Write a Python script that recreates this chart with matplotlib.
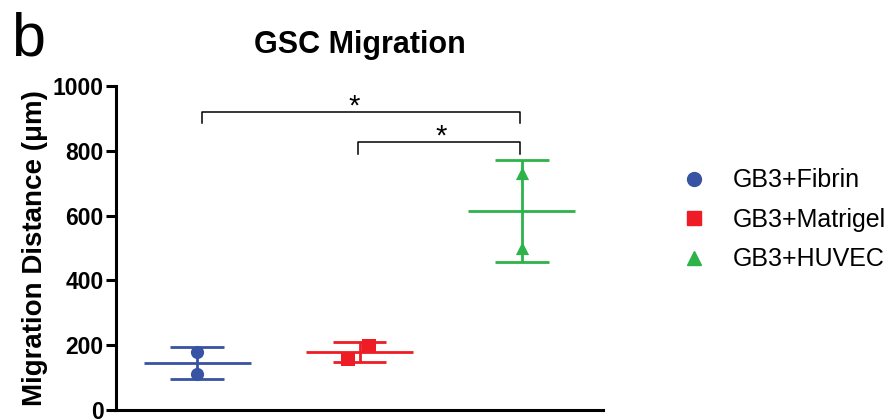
import matplotlib
matplotlib.use("Agg")
import matplotlib.pyplot as plt
from matplotlib.lines import Line2D
import numpy as np

plt.rcParams['font.family'] = ['Liberation Sans', 'DejaVu Sans']

groups = ["GB3+Fibrin", "GB3+Matrigel", "GB3+HUVEC"]
points = [[180, 110], [197, 157], [730, 500]]
means = [145, 178, 614]
sds = [50, 31, 158]
jitter = [[0.0, 0.0], [0.06, -0.07], [0.0, 0.0]]
colors = ["#3953a4", "#ee1c24", "#2db34a"]
markers = ["o", "s", "^"]
yticks = [0, 200, 400, 600, 800, 1000]
brackets = [(0.03, 1.99, 921, 886), (0.99, 1.99, 827, 790)]

fig = plt.figure(figsize=(8.94, 4.19), dpi=100)
ax = fig.add_axes([0.1298, 0.0215, 0.6745 - 0.1298, 0.7947 - 0.0215])

for i, (pts, m, s, c, mk) in enumerate(zip(points, means, sds, colors, markers)):
    ax.hlines(m, i - 0.33, i + 0.33, color=c, lw=2.0, zorder=3)
    ax.hlines([m - s, m + s], i - 0.165, i + 0.165, color=c, lw=2.0, zorder=3)
    ax.vlines(i, m - s, m + s, color=c, lw=2.0, zorder=3)
    ax.scatter(np.array(jitter[i]) + i, pts, marker=mk, color=c, s=90, zorder=4,
               linewidths=0)

for x0, x1, ytop, yleg in brackets:
    ax.plot([x0, x0, x1, x1], [yleg, ytop, ytop, yleg], color="black", lw=1.1,
            clip_on=False)
ax.text(0.97, 937, "*", ha="center", va="center", fontsize=21)
ax.text(1.5, 843, "*", ha="center", va="center", fontsize=21)

ax.set_xlim(-0.5, 2.5)
ax.set_ylim(0, 1000)
ax.set_yticks(yticks)
ax.set_xticks([])
ax.spines['top'].set_visible(False)
ax.spines['right'].set_visible(False)
ax.spines['left'].set_linewidth(2.2)
ax.spines['bottom'].set_linewidth(2.2)
ax.tick_params(axis='y', width=2.2, length=7, labelsize=16.5, pad=2)
for lab in ax.get_yticklabels():
    lab.set_fontweight('bold')
ax.set_ylabel("Migration Distance (\u03bcm)", fontsize=20, fontweight='bold',
              labelpad=3)

fig.text(0.403, 0.893, "GSC Migration", ha="center", va="center", fontsize=22,
         fontweight='bold')
fig.text(0.012, 0.905, "b", ha="left", va="center", fontsize=44)

handles = [Line2D([], [], ls='none', marker=mk, color=c, markersize=10)
           for mk, c in zip(markers, colors)]
fig.legend(handles, groups, loc='center left', bbox_to_anchor=(0.762, 0.475),
           frameon=False, fontsize=18, handletextpad=1.05, labelspacing=0.62,
           handlelength=1.0, borderaxespad=0, borderpad=0)

fig.savefig("out.png", dpi=100)
